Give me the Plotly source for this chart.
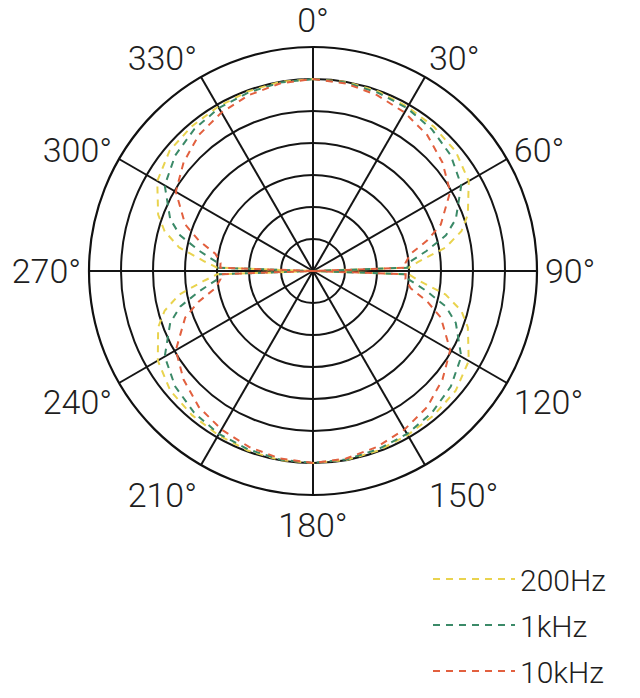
import plotly.graph_objects as go

angles = [0, 10, 20, 30, 40, 50, 60, 70, 75, 80, 85, 88, 90, 92, 95, 100, 105, 110, 120, 130, 140, 150, 160, 170,
          180, 190, 200, 210, 220, 230, 240, 250, 255, 260, 265, 268, 270, 272, 275, 280, 285, 290, 300, 310, 320,
          330, 340, 350, 360]

r_200hz = [6.0, 6.0, 5.97, 5.92, 5.88, 5.82, 5.62, 5.15, 4.8, 4.2, 3.3, 3.0, 0.0, 3.0, 3.3, 4.2, 4.8, 5.15, 5.62,
           5.82, 5.88, 5.92, 5.97, 6.0, 6.0, 6.0, 5.97, 5.92, 5.88, 5.82, 5.6, 5.15, 4.8, 4.25, 3.4, 3.0, 0.0, 3.0,
           3.4, 4.25, 4.8, 5.15, 5.62, 5.85, 5.9, 5.93, 5.97, 6.0, 6.0]

r_1khz = [6.0, 5.98, 5.93, 5.88, 5.78, 5.62, 5.35, 4.75, 4.3, 3.6, 3.0, 2.95, 0.0, 2.95, 3.0, 3.6, 4.3, 4.75, 5.35,
          5.62, 5.78, 5.88, 5.93, 5.98, 6.0, 5.98, 5.93, 5.88, 5.78, 5.62, 5.35, 4.75, 4.3, 3.6, 3.0, 2.95, 0.0, 2.95,
          3.0, 3.6, 4.3, 4.75, 5.35, 5.62, 5.78, 5.88, 5.93, 5.98, 6.0]

r_10khz = [6.0, 5.95, 5.85, 5.72, 5.55, 5.28, 4.95, 4.25, 3.7, 3.1, 2.9, 2.9, 0.0, 2.9, 2.9, 3.1, 3.7, 4.25, 4.95,
           5.28, 5.55, 5.72, 5.85, 5.95, 6.0, 5.95, 5.85, 5.72, 5.55, 5.28, 4.95, 4.25, 3.7, 3.1, 2.9, 2.9, 0.0, 2.9,
           2.9, 3.1, 3.7, 4.25, 4.95, 5.28, 5.55, 5.72, 5.85, 5.95, 6.0]

series_names = ["200Hz", "1kHz", "10kHz"]
series_colors = ["#e9d34e", "#3b8a68", "#e2603f"]
series_values = [r_200hz, r_1khz, r_10khz]

angle_tick_vals = [0, 30, 60, 90, 120, 150, 180, 210, 240, 270, 300, 330]
angle_tick_text = ["0°", "30°", "60°", "90°", "120°", "150°", "180°", "210°", "240°", "270°", "300°", "330°"]
radial_ticks = [1, 2, 3, 4, 5, 6, 7]

FONT = "Roboto"
W, H = 640, 698
# page body has an 8px margin, so the figure is drawn 8px right/down
cx, cy, R = 305, 263, 224

fig = go.Figure()
for name, color, vals in zip(series_names, series_colors, series_values):
    fig.add_trace(go.Scatterpolar(
        r=vals, theta=angles, mode="lines", name=name, legendgroup=name,
        line=dict(color=color, width=2, dash="7px,6px"),
    ))

fig.update_layout(
    width=W, height=H,
    margin=dict(l=0, r=0, t=0, b=0),
    paper_bgcolor="white",
    plot_bgcolor="white",
    font=dict(family=FONT, color="#222222"),
    polar=dict(
        domain=dict(x=[(cx - R) / W, (cx + R) / W], y=[(H - cy - R) / H, (H - cy + R) / H]),
        bgcolor="white",
        angularaxis=dict(
            rotation=90, direction="clockwise",
            tickmode="array", tickvals=angle_tick_vals, ticktext=angle_tick_text,
            ticks="outside", ticklen=0, tickcolor="rgba(0,0,0,0)",
            tickfont=dict(family=FONT, size=34, color="#1e1e1e", weight=300),
            showline=True, linecolor="#111111", linewidth=2.2,
            showgrid=True, gridcolor="#151515", gridwidth=2,
        ),
        radialaxis=dict(
            range=[0, 7], tickmode="array", tickvals=radial_ticks,
            showticklabels=False, ticks="", showline=False,
            showgrid=True, gridcolor="#151515", gridwidth=2,
        ),
    ),
    showlegend=True,
    legend=dict(
        x=420 / W, xanchor="left", y=(H - 545) / H, yanchor="top",
        bgcolor="rgba(0,0,0,0)", itemwidth=82,
        tracegroupgap=4,
        font=dict(family=FONT, size=30, color="#1e1e1e", weight=300),
    ),
)

fig.write_html("out.html")
